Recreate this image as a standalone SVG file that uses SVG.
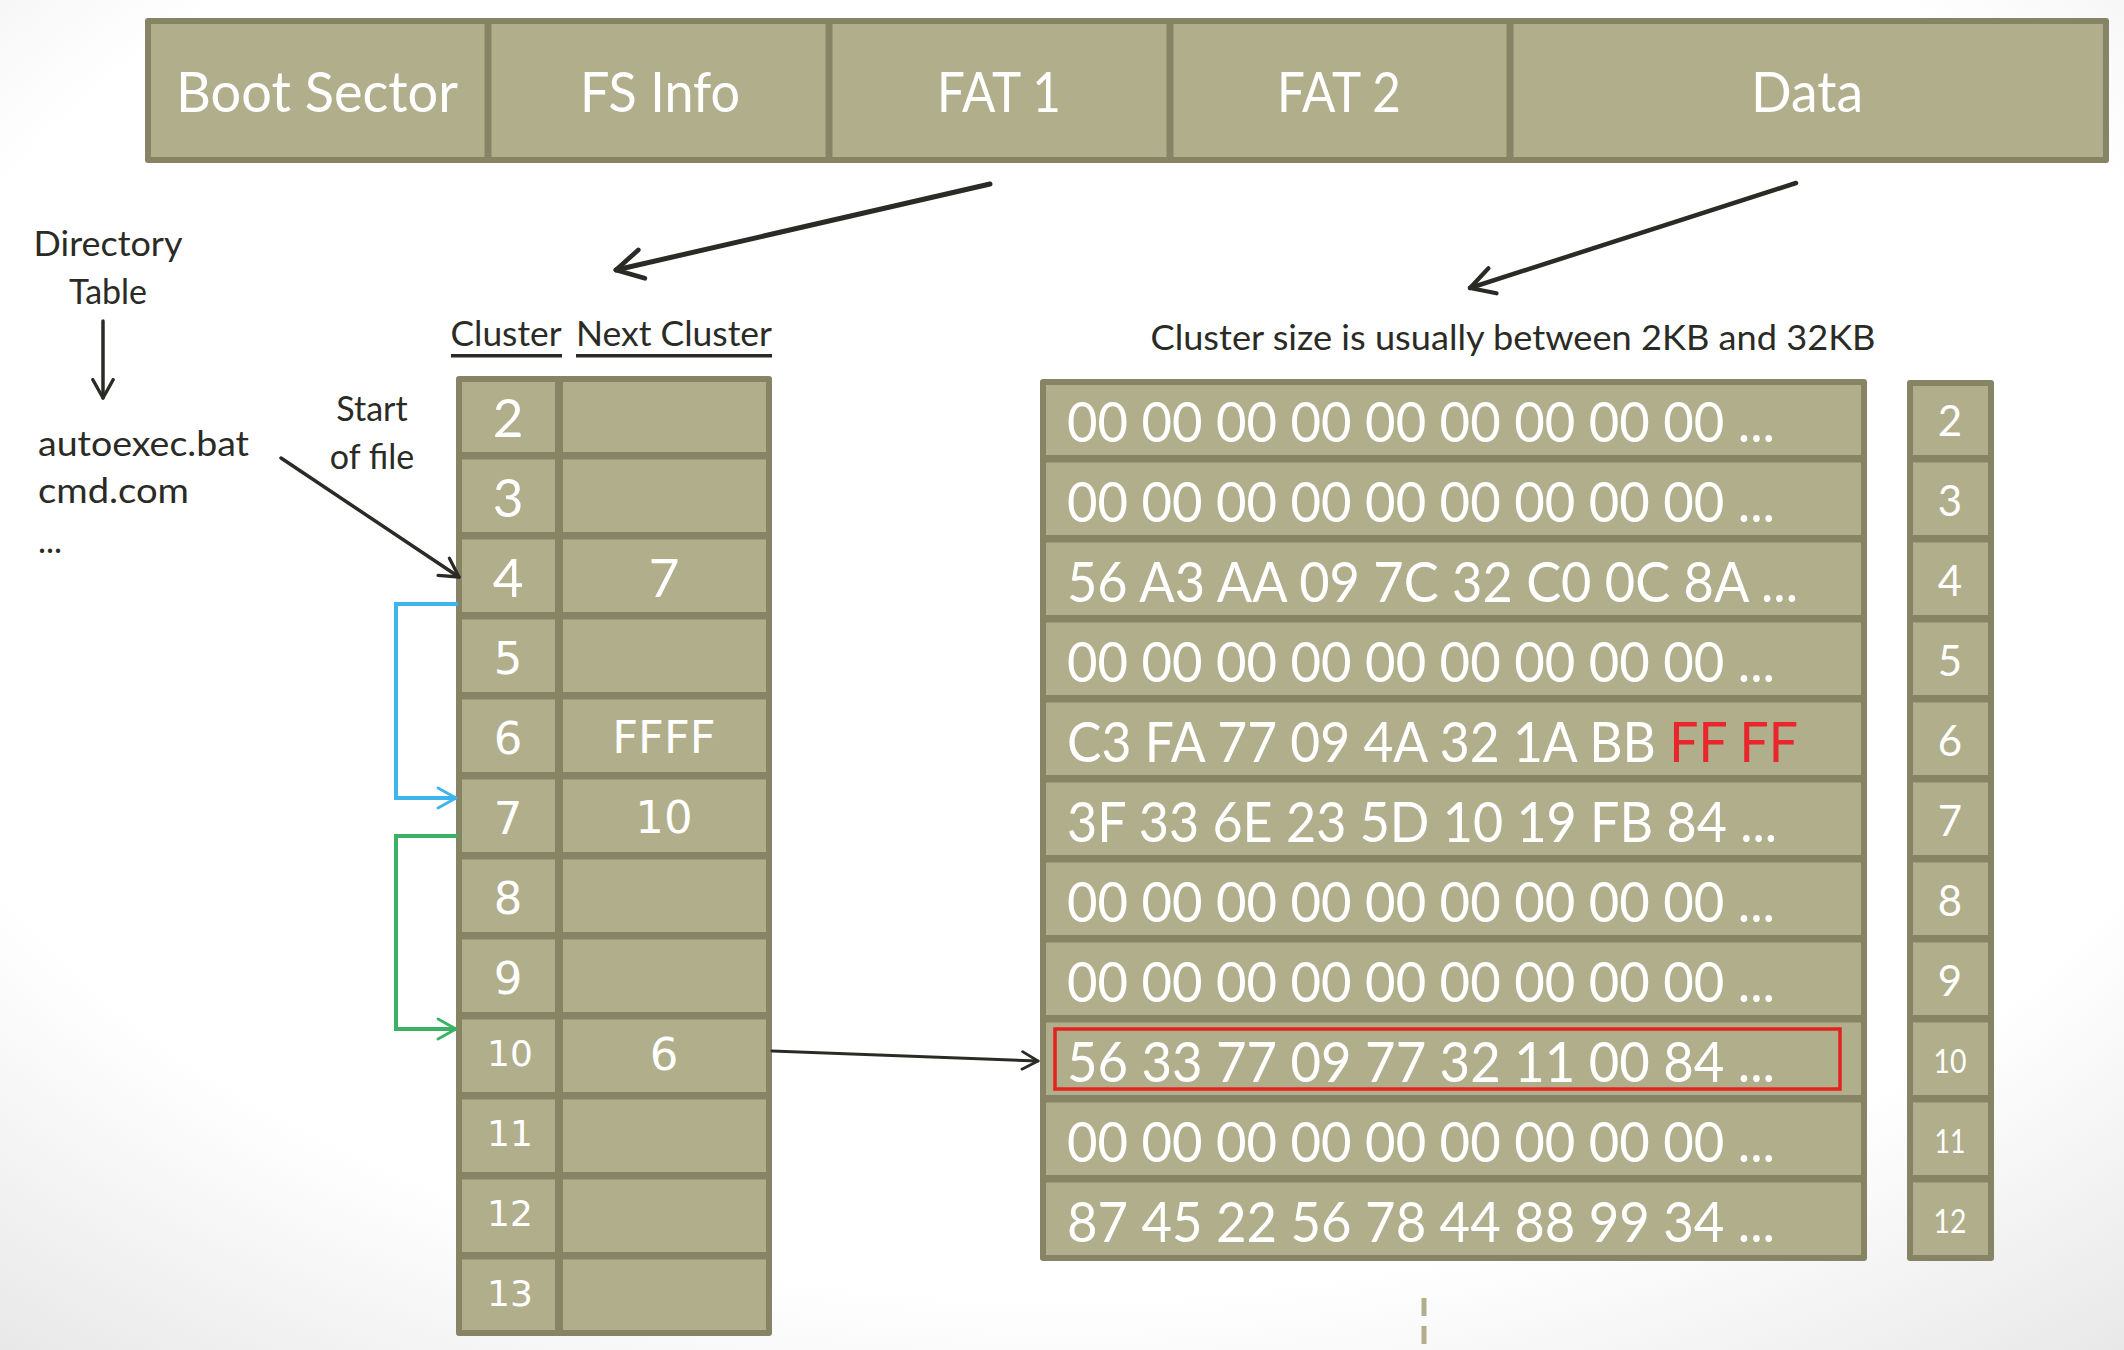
<svg xmlns="http://www.w3.org/2000/svg" width="2124" height="1350" viewBox="0 0 2124 1350">
<defs>
<radialGradient id="bg" cx="50%" cy="40%" r="80%">
<stop offset="0.7" stop-color="#ffffff"/>
<stop offset="1" stop-color="#e6e6e6"/>
</radialGradient>
<marker id="mk" viewBox="0 0 12 12" refX="10" refY="6" markerWidth="7" markerHeight="7" orient="auto" markerUnits="strokeWidth">
<path d="M1,1 L10,6 L1,11" fill="none" stroke="#2b2b26" stroke-width="1.6" stroke-linecap="round" stroke-linejoin="round"/>
</marker>
<marker id="mkb" viewBox="0 0 12 12" refX="10" refY="6" markerWidth="6" markerHeight="6" orient="auto" markerUnits="strokeWidth">
<path d="M1,1 L10,6 L1,11" fill="none" stroke="#3db4ea" stroke-width="1.4" stroke-linecap="round" stroke-linejoin="round"/>
</marker>
<marker id="mkg" viewBox="0 0 12 12" refX="10" refY="6" markerWidth="6" markerHeight="6" orient="auto" markerUnits="strokeWidth">
<path d="M1,1 L10,6 L1,11" fill="none" stroke="#3bb263" stroke-width="1.4" stroke-linecap="round" stroke-linejoin="round"/>
</marker>
</defs>
<style>
.frame{fill:#878466}
.cell{fill:#b1ae8b}
.lbl{font-family:Lato,"Open Sans",sans-serif;fill:#ffffff}
.vd{font-family:"DejaVu Sans",Verdana,sans-serif;fill:#ffffff}
.dk{font-family:Lato,"Open Sans",sans-serif;fill:#2b2b26}
.hex{font-family:Lato,"Open Sans",sans-serif;fill:#ffffff;font-size:57px}
.red{fill:#e8262b}
.ln{fill:none;stroke:#2b2b26;stroke-linecap:round}
</style>
<rect width="2124" height="1350" fill="url(#bg)"/>

<g id="top-bar">
<rect class="frame" x="145" y="18" width="1964" height="145" rx="3"/>
<rect class="cell" x="151" y="24" width="333.5" height="133"/>
<rect class="cell" x="491.5" y="24" width="334" height="133"/>
<rect class="cell" x="832.5" y="24" width="334" height="133"/>
<rect class="cell" x="1173.5" y="24" width="333" height="133"/>
<rect class="cell" x="1513.5" y="24" width="589.5" height="133"/>
<text class="lbl" x="317" y="112" font-size="57" text-anchor="middle" textLength="282" lengthAdjust="spacingAndGlyphs">Boot Sector</text>
<text class="lbl" x="660" y="112" font-size="57" text-anchor="middle" textLength="160" lengthAdjust="spacingAndGlyphs">FS Info</text>
<text class="lbl" x="999" y="112" font-size="57" text-anchor="middle" textLength="124" lengthAdjust="spacingAndGlyphs">FAT 1</text>
<text class="lbl" x="1339" y="112" font-size="57" text-anchor="middle" textLength="124" lengthAdjust="spacingAndGlyphs">FAT 2</text>
<text class="lbl" x="1807" y="112" font-size="57" text-anchor="middle" textLength="112" lengthAdjust="spacingAndGlyphs">Data</text>
</g>

<g id="directory-table">
<text class="dk" x="108" y="256" font-size="34" text-anchor="middle" textLength="149" lengthAdjust="spacingAndGlyphs">Directory</text>
<text class="dk" x="108" y="304" font-size="34" text-anchor="middle">Table</text>
<text class="dk" x="38" y="456" font-size="34" textLength="211" lengthAdjust="spacingAndGlyphs">autoexec.bat</text>
<text class="dk" x="38" y="503" font-size="34" textLength="151" lengthAdjust="spacingAndGlyphs">cmd.com</text>
<text class="dk" x="38" y="553" font-size="34">...</text>
</g>

<g id="start-of-file">
<text class="dk" x="372" y="421" font-size="34" text-anchor="middle">Start</text>
<text class="dk" x="372" y="469" font-size="34" text-anchor="middle">of file</text>
</g>

<g id="fat-header">
<text class="dk" x="506" y="346" font-size="34" text-anchor="middle" textLength="111" lengthAdjust="spacingAndGlyphs">Cluster</text>
<text class="dk" x="674" y="346" font-size="34" text-anchor="middle" textLength="196" lengthAdjust="spacingAndGlyphs">Next Cluster</text>
<rect x="451" y="354" width="111" height="3.5" fill="#2b2b26"/>
<rect x="576" y="354" width="196" height="3.5" fill="#2b2b26"/>
</g>

<g id="fat-table">
<rect class="frame" x="456" y="376" width="316" height="960" rx="3"/>
<g id="fat-cells">
<rect class="cell" x="462" y="382" width="93" height="70"/><rect class="cell" x="563" y="382" width="203" height="70"/>
<rect class="cell" x="462" y="459.5" width="93" height="72.5"/><rect class="cell" x="563" y="459.5" width="203" height="72.5"/>
<rect class="cell" x="462" y="539.5" width="93" height="72.5"/><rect class="cell" x="563" y="539.5" width="203" height="72.5"/>
<rect class="cell" x="462" y="619.5" width="93" height="72.5"/><rect class="cell" x="563" y="619.5" width="203" height="72.5"/>
<rect class="cell" x="462" y="699.5" width="93" height="72.5"/><rect class="cell" x="563" y="699.5" width="203" height="72.5"/>
<rect class="cell" x="462" y="779.5" width="93" height="72.5"/><rect class="cell" x="563" y="779.5" width="203" height="72.5"/>
<rect class="cell" x="462" y="859.5" width="93" height="72.5"/><rect class="cell" x="563" y="859.5" width="203" height="72.5"/>
<rect class="cell" x="462" y="939.5" width="93" height="72.5"/><rect class="cell" x="563" y="939.5" width="203" height="72.5"/>
<rect class="cell" x="462" y="1019.5" width="93" height="72.5"/><rect class="cell" x="563" y="1019.5" width="203" height="72.5"/>
<rect class="cell" x="462" y="1099.5" width="93" height="72.5"/><rect class="cell" x="563" y="1099.5" width="203" height="72.5"/>
<rect class="cell" x="462" y="1179.5" width="93" height="72.5"/><rect class="cell" x="563" y="1179.5" width="203" height="72.5"/>
<rect class="cell" x="462" y="1259.5" width="93" height="70.5"/><rect class="cell" x="563" y="1259.5" width="203" height="70.5"/>
</g>
<g id="fat-numbers" text-anchor="middle">
<text class="lbl" x="508" y="437" font-size="53">2</text>
<text class="lbl" x="508" y="517" font-size="53">3</text>
<text class="lbl" x="508" y="597" font-size="53">4</text>
<text class="vd" x="508" y="674" font-size="45">5</text>
<text class="vd" x="508" y="754" font-size="45">6</text>
<text class="vd" x="508" y="834" font-size="45">7</text>
<text class="vd" x="508" y="914" font-size="45">8</text>
<text class="vd" x="508" y="994" font-size="45">9</text>
<text class="vd" x="510" y="1066" font-size="36">10</text>
<text class="vd" x="510" y="1146" font-size="36">11</text>
<text class="vd" x="510" y="1226" font-size="36">12</text>
<text class="vd" x="510" y="1306" font-size="36">13</text>
<text class="lbl" x="664" y="597" font-size="53">7</text>
<text class="vd" x="664" y="753" font-size="45">FFFF</text>
<text class="vd" x="664" y="833" font-size="45">10</text>
<text class="vd" x="664" y="1070" font-size="45">6</text>
</g>
</g>

<g id="cluster-size-note">
<text class="dk" x="1513" y="350" font-size="34" text-anchor="middle" textLength="725" lengthAdjust="spacingAndGlyphs">Cluster size is usually between 2KB and 32KB</text>
</g>

<g id="data-table">
<rect class="frame" x="1040" y="379" width="827" height="882" rx="3"/>
<g id="data-cells">
<rect class="cell" x="1046" y="385" width="815" height="70"/>
<rect class="cell" x="1046" y="462.5" width="815" height="72.5"/>
<rect class="cell" x="1046" y="542.5" width="815" height="72.5"/>
<rect class="cell" x="1046" y="622.5" width="815" height="72.5"/>
<rect class="cell" x="1046" y="702.5" width="815" height="72.5"/>
<rect class="cell" x="1046" y="782.5" width="815" height="72.5"/>
<rect class="cell" x="1046" y="862.5" width="815" height="72.5"/>
<rect class="cell" x="1046" y="942.5" width="815" height="72.5"/>
<rect class="cell" x="1046" y="1022.5" width="815" height="72.5"/>
<rect class="cell" x="1046" y="1102.5" width="815" height="72.5"/>
<rect class="cell" x="1046" y="1182.5" width="815" height="72.5"/>
</g>
<g id="data-text">
<text class="hex" x="1067" y="442" textLength="708" lengthAdjust="spacingAndGlyphs">00 00 00 00 00 00 00 00 00 ...</text>
<text class="hex" x="1067" y="522" textLength="708" lengthAdjust="spacingAndGlyphs">00 00 00 00 00 00 00 00 00 ...</text>
<text class="hex" x="1067" y="602" textLength="731" lengthAdjust="spacingAndGlyphs">56 A3 AA 09 7C 32 C0 0C 8A ...</text>
<text class="hex" x="1067" y="682" textLength="708" lengthAdjust="spacingAndGlyphs">00 00 00 00 00 00 00 00 00 ...</text>
<text class="hex" x="1067" y="762" textLength="731" lengthAdjust="spacingAndGlyphs">C3 FA 77 09 4A 32 1A BB <tspan class="red">FF FF</tspan></text>
<text class="hex" x="1067" y="842" textLength="710" lengthAdjust="spacingAndGlyphs">3F 33 6E 23 5D 10 19 FB 84 ...</text>
<text class="hex" x="1067" y="922" textLength="708" lengthAdjust="spacingAndGlyphs">00 00 00 00 00 00 00 00 00 ...</text>
<text class="hex" x="1067" y="1002" textLength="708" lengthAdjust="spacingAndGlyphs">00 00 00 00 00 00 00 00 00 ...</text>
<text class="hex" x="1067" y="1082" textLength="708" lengthAdjust="spacingAndGlyphs">56 33 77 09 77 32 11 00 84 ...</text>
<text class="hex" x="1067" y="1162" textLength="708" lengthAdjust="spacingAndGlyphs">00 00 00 00 00 00 00 00 00 ...</text>
<text class="hex" x="1067" y="1242" textLength="708" lengthAdjust="spacingAndGlyphs">87 45 22 56 78 44 88 99 34 ...</text>
</g>
<rect id="highlight" x="1055" y="1029" width="785" height="60" fill="none" stroke="#e3231f" stroke-width="3.5"/>
</g>

<g id="index-column">
<rect class="frame" x="1907" y="380" width="87" height="881" rx="3"/>
<rect class="cell" x="1913" y="386" width="75" height="69"/>
<rect class="cell" x="1913" y="462.5" width="75" height="72.5"/>
<rect class="cell" x="1913" y="542.5" width="75" height="72.5"/>
<rect class="cell" x="1913" y="622.5" width="75" height="72.5"/>
<rect class="cell" x="1913" y="702.5" width="75" height="72.5"/>
<rect class="cell" x="1913" y="782.5" width="75" height="72.5"/>
<rect class="cell" x="1913" y="862.5" width="75" height="72.5"/>
<rect class="cell" x="1913" y="942.5" width="75" height="72.5"/>
<rect class="cell" x="1913" y="1022.5" width="75" height="72.5"/>
<rect class="cell" x="1913" y="1102.5" width="75" height="72.5"/>
<rect class="cell" x="1913" y="1182.5" width="75" height="72.5"/>
<g text-anchor="middle">
<text class="lbl" x="1950" y="436" font-size="42">2</text>
<text class="lbl" x="1950" y="516" font-size="42">3</text>
<text class="lbl" x="1950" y="596" font-size="42">4</text>
<text class="lbl" x="1950" y="676" font-size="42">5</text>
<text class="lbl" x="1950" y="756" font-size="42">6</text>
<text class="lbl" x="1950" y="836" font-size="42">7</text>
<text class="lbl" x="1950" y="916" font-size="42">8</text>
<text class="lbl" x="1950" y="996" font-size="42">9</text>
<text class="lbl" x="1950" y="1073" font-size="33" textLength="33" lengthAdjust="spacingAndGlyphs">10</text>
<text class="lbl" x="1950" y="1153" font-size="33" textLength="31" lengthAdjust="spacingAndGlyphs">11</text>
<text class="lbl" x="1950" y="1233" font-size="33" textLength="33" lengthAdjust="spacingAndGlyphs">12</text>
</g>
</g>

<g id="connectors">
<line class="ln" x1="990" y1="184" x2="616" y2="270" stroke-width="5" marker-end="url(#mk)"/>
<line class="ln" x1="1796" y1="183" x2="1470" y2="288" stroke-width="4.5" marker-end="url(#mk)"/>
<line class="ln" x1="103" y1="321" x2="103" y2="398" stroke-width="3.5" marker-end="url(#mk)"/>
<line class="ln" x1="281" y1="458" x2="459" y2="577" stroke-width="3.5" marker-end="url(#mk)"/>
<line class="ln" x1="772" y1="1051" x2="1038" y2="1061" stroke-width="3" marker-end="url(#mk)"/>
<polyline points="458,604 396,604 396,798 456,798" fill="none" stroke="#3db4ea" stroke-width="4" marker-end="url(#mkb)"/>
<polyline points="458,836 396,836 396,1029 456,1029" fill="none" stroke="#3bb263" stroke-width="4" marker-end="url(#mkg)"/>
<line x1="1424" y1="1298" x2="1424" y2="1350" stroke="#b1ae8b" stroke-width="5" stroke-dasharray="18,10"/>
</g>
</svg>
